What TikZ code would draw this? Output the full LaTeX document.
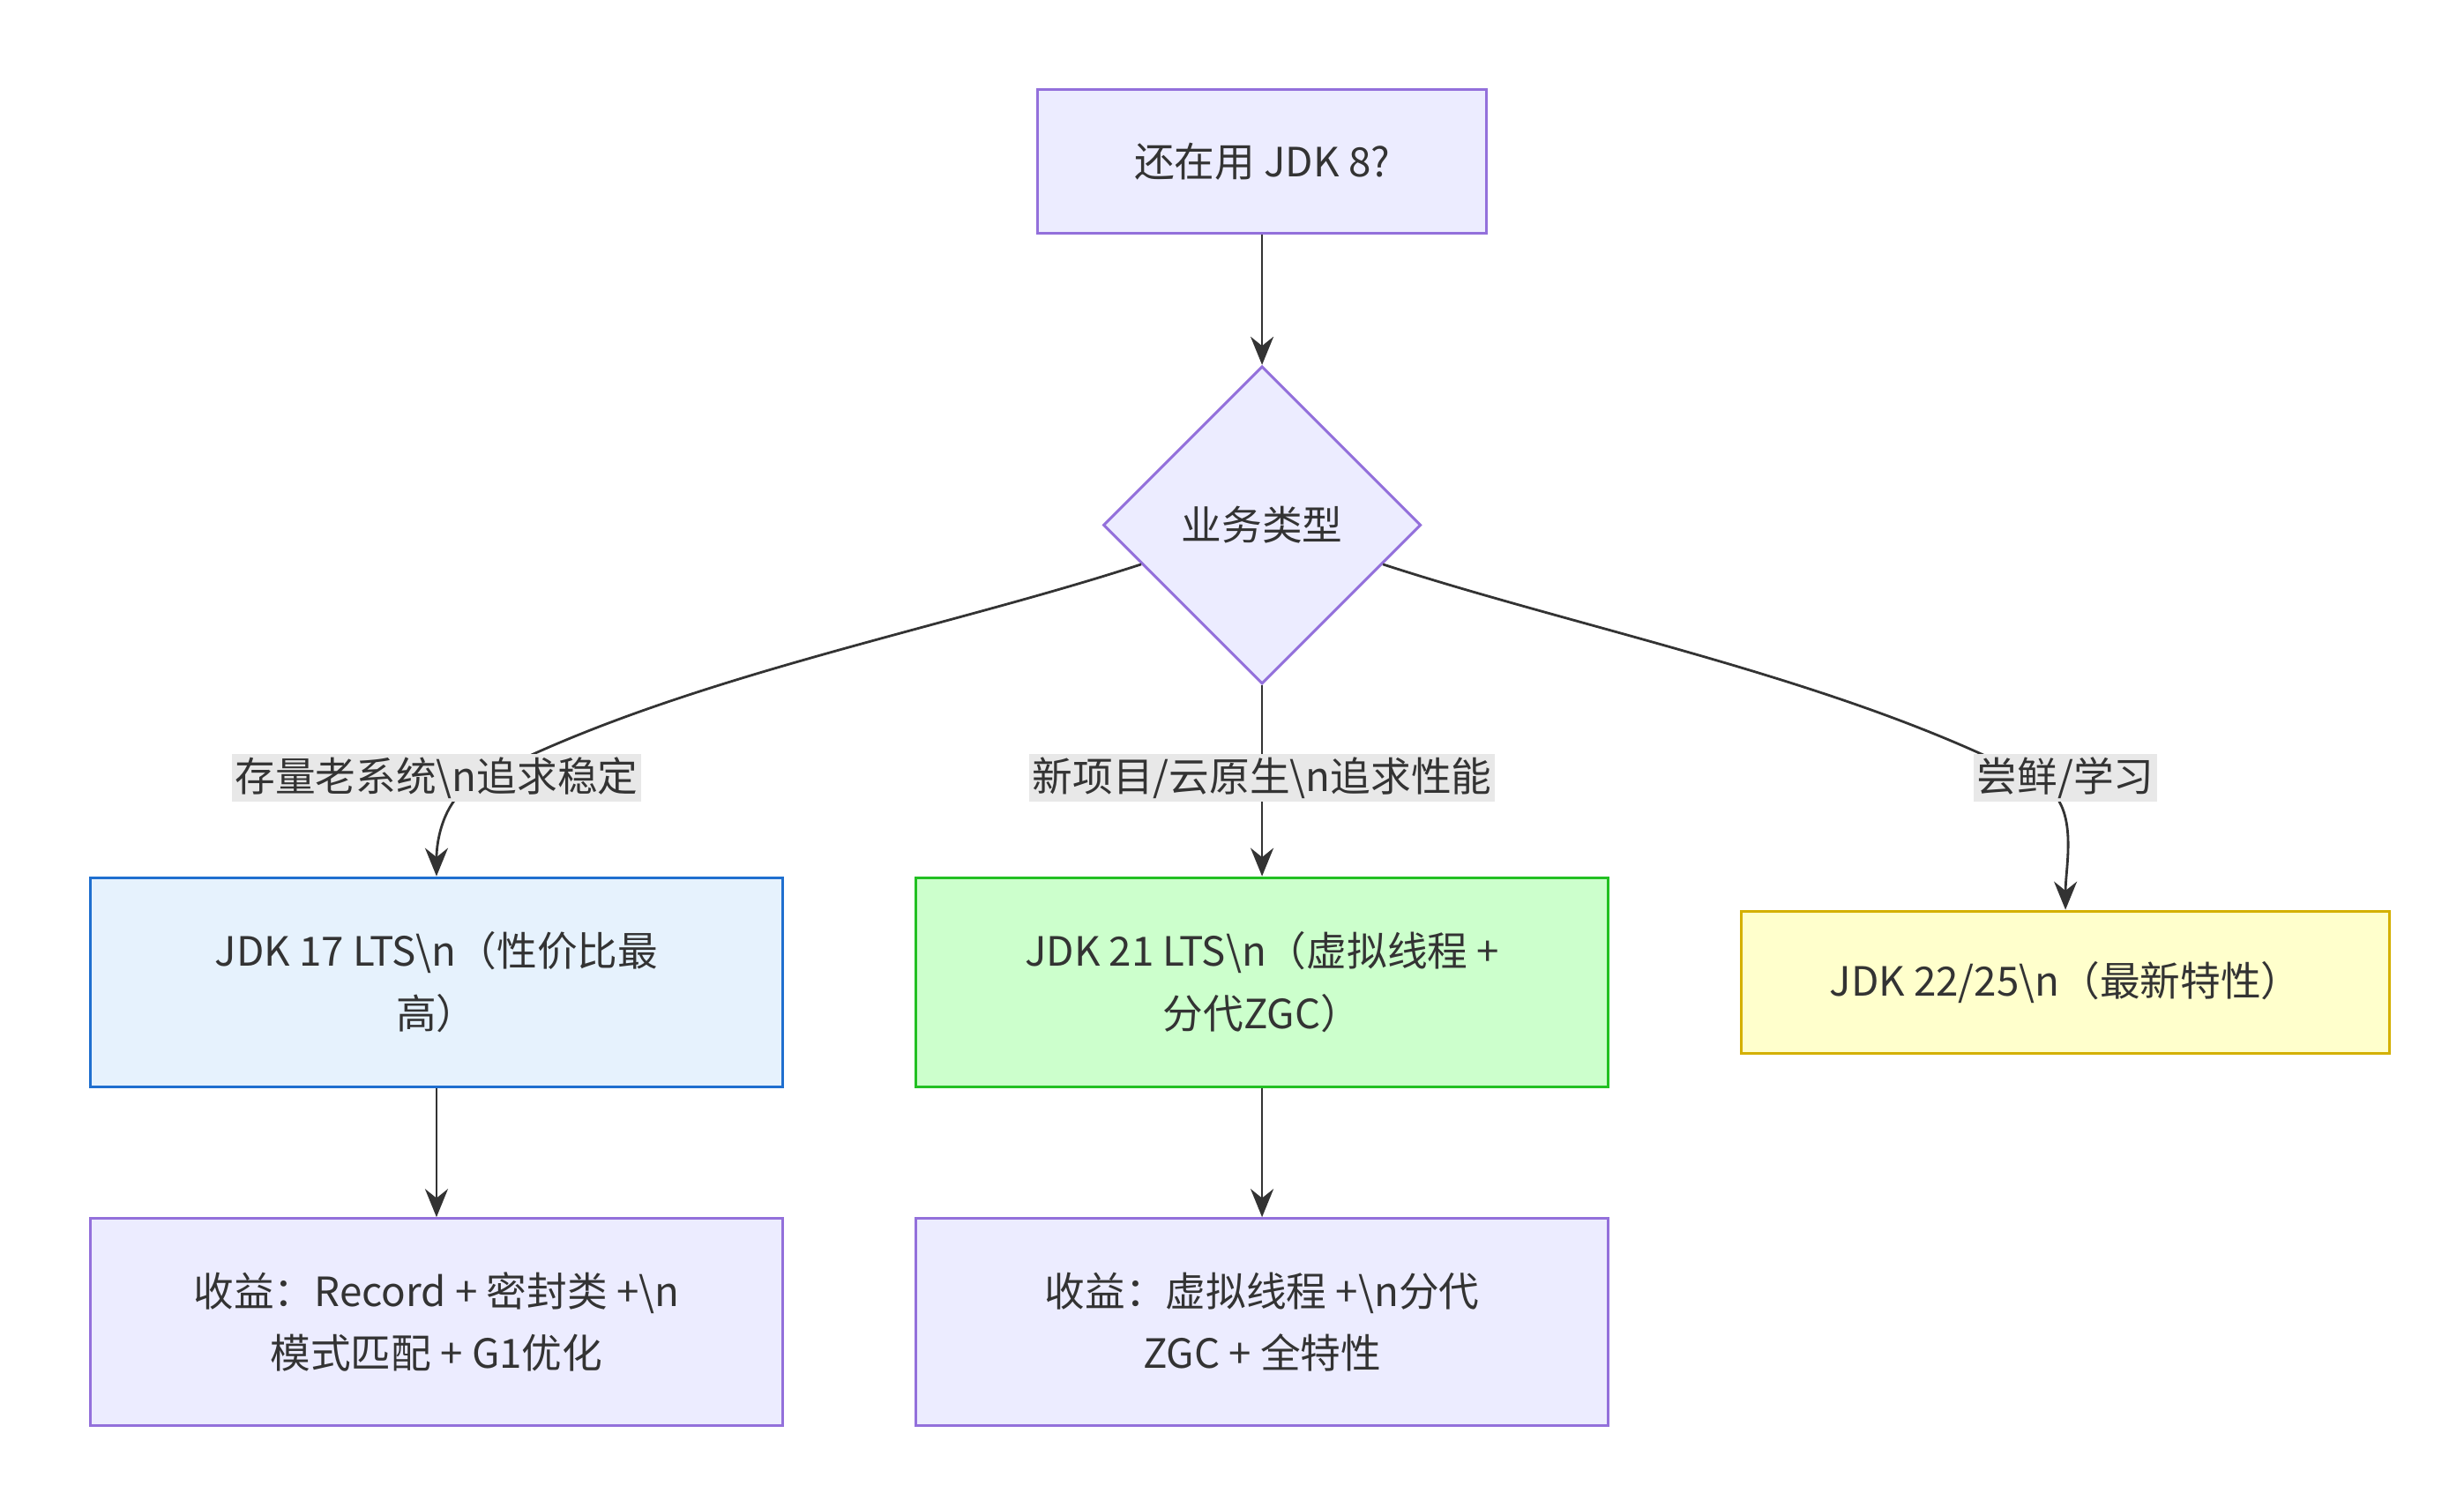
\documentclass[tikz,border=0pt]{standalone}
\usepackage{fontspec}
\setmainfont{Noto Sans CJK SC}
\usetikzlibrary{shapes.geometric,arrows.meta}
\definecolor{mfill}{HTML}{ECECFF}
\definecolor{mline}{HTML}{9370DB}
\definecolor{bfill}{HTML}{E6F2FD}
\definecolor{bline}{HTML}{1F6FCF}
\definecolor{gfill}{HTML}{CCFFCC}
\definecolor{gline}{HTML}{22C022}
\definecolor{yfill}{HTML}{FFFFCC}
\definecolor{yline}{HTML}{D4B000}
\definecolor{ink}{HTML}{333333}
\definecolor{lblbg}{HTML}{E8E8E8}
\tikzset{
  box/.style={rectangle, draw=mline, fill=mfill, line width=0.3mm, align=center, text=ink, minimum width=#1},
  box/.default=7.85cm,
  decision/.style={diamond, draw=mline, fill=mfill, line width=0.3mm, text=ink, minimum width=3.6cm, minimum height=3.6cm, inner sep=0pt},
  lbl/.style={fill=lblbg, text=ink, inner sep=1pt},
  edge/.style={draw=ink, line width=0.28mm, -{Stealth[length=3.2mm,width=2.6mm]}}
}
\begin{document}
\begin{tikzpicture}[x=0.01793cm,y=-0.01793cm, font=\fontsize{13pt}{20pt}\selectfont]
  \useasboundingbox (0,0) rectangle (1558,953);
  \node (start) [box=5.09cm, minimum height=1.63cm] at (798,102) {还在用 JDK 8?};
  \node (type) [decision] at (798,332) {业务类型};
  \node (jdk17) [box, draw=bline, fill=bfill, minimum height=2.37cm] at (276,621) {JDK 17 LTS\textbackslash n（性价比最\\高）};
  \node (jdk21) [box, draw=gline, fill=gfill, minimum height=2.37cm] at (798,621) {JDK 21 LTS\textbackslash n（虚拟线程 +\\分代ZGC）};
  \node (jdk25) [box=7.35cm, draw=yline, fill=yfill, minimum height=1.61cm] at (1306,621) {JDK 22/25\textbackslash n（最新特性）};
  \node (gain17) [box, minimum height=2.35cm] at (276,836) {收益：Record + 密封类 +\textbackslash n\\模式匹配 + G1优化};
  \node (gain21) [box, minimum height=2.35cm] at (798,836) {收益：虚拟线程 +\textbackslash n分代\\ZGC + 全特性};
  % edge labels placed first, drawn on top later
  \coordinate (l17) at (300,495);
  \coordinate (l21) at (798,492);
  \coordinate (l25) at (1290,495);
  \draw [edge] (start) -- (type);
  \draw [edge] (type.south) -- (jdk21.north);
  \draw [edge] (type) to[out=198,in=28,looseness=0.8] (l17) to[out=-152,in=90,looseness=0.9] (jdk17.north);
  \draw [edge] (type) to[out=-18,in=152,looseness=0.8] (l25) to[out=-28,in=90,looseness=0.9] (jdk25.north);
  \draw [edge] (jdk17) -- (gain17);
  \draw [edge] (jdk21) -- (gain21);
  \node [lbl] at (276,492) {存量老系统\textbackslash n追求稳定};
  \node [lbl] at (l21) {新项目/云原生\textbackslash n追求性能};
  \node [lbl] at (1306,492) {尝鲜/学习};
\end{tikzpicture}
\end{document}
